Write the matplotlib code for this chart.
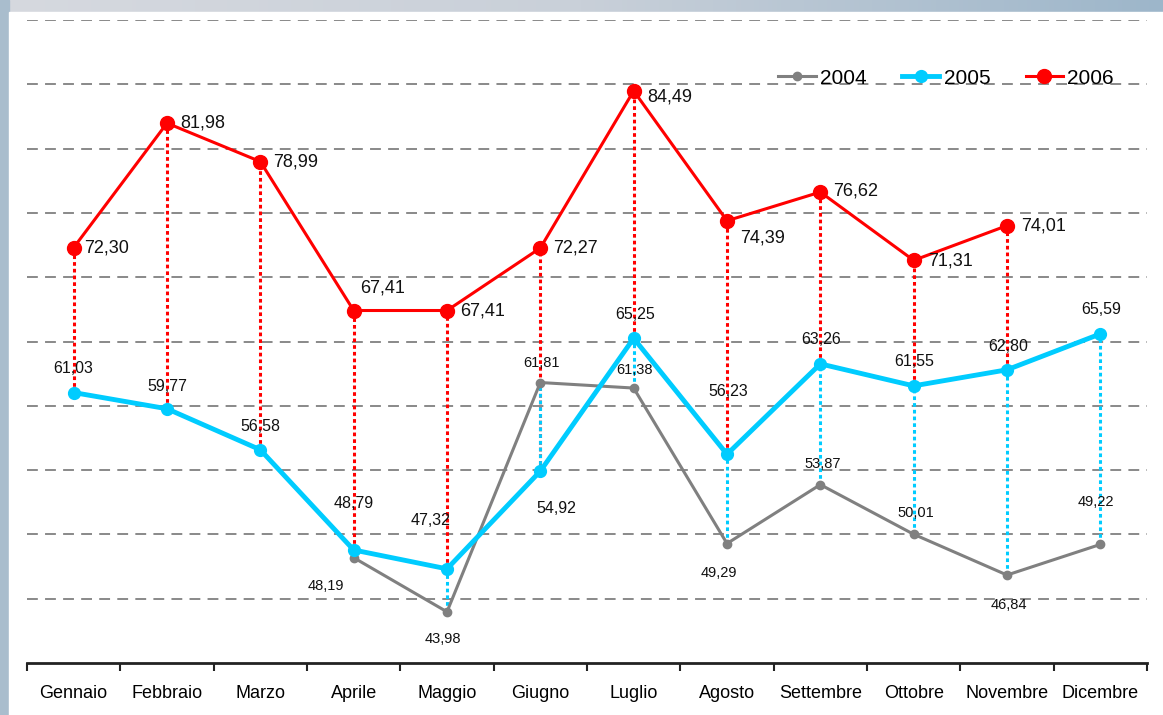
import numpy as np
import matplotlib
matplotlib.use("Agg")
import matplotlib.pyplot as plt
from matplotlib.colors import LinearSegmentedColormap
from matplotlib.patches import Rectangle

plt.rcParams['font.family'] = ['Liberation Sans', 'DejaVu Sans']

months = ['Gennaio', 'Febbraio', 'Marzo', 'Aprile', 'Maggio', 'Giugno',
          'Luglio', 'Agosto', 'Settembre', 'Ottobre', 'Novembre', 'Dicembre']
v2004 = [np.nan, np.nan, np.nan, 48.19, 43.98, 61.81, 61.38, 49.29, 53.87, 50.01, 46.84, 49.22]
v2005 = [61.03, 59.77, 56.58, 48.79, 47.32, 54.92, 65.25, 56.23, 63.26, 61.55, 62.80, 65.59]
v2006 = [72.30, 81.98, 78.99, 67.41, 67.41, 72.27, 84.49, 74.39, 76.62, 71.31, 74.01, np.nan]

# label offsets in pixels (dx, dy)
off2004 = [None, None, None, (-28, -28), (-4, -27), (1, 20), (1, 18), (-8, -29), (2, 21), (2, 21), (2, -30), (-4, 42)]
off2005 = [(0, 24), (0, 22), (0, 23), (0, 46), (-16, 48), (16, -37), (1, 24), (1, 63), (1, 24), (1, 24), (1, 23), (1, 24)]
off2006 = [(10, 0), (13, 0), (13, 0), (6, 23), (13, 0), (13, 0), (14, -6), (13, -17), (13, 1), (14, -1), (14, 0), None]

GREY, CYAN, RED = '#808080', '#00ccff', '#ff0000'

fig = plt.figure(figsize=(11.63, 7.15), dpi=100)

# background frame
bg = fig.add_axes([0, 0, 1, 1])
bg.set_axis_off()
cmap = LinearSegmentedColormap.from_list('bg', ['#d6d9df', '#c9d0d9', '#9db6ca'])
grad = np.tile(np.linspace(0, 1, 256), (64, 1))
bg.imshow(grad, cmap=cmap, aspect='auto', extent=[0, 1, 0, 1])
bg.add_patch(Rectangle((0, 0), 9 / 1163, 1, color='#a9bdcd', zorder=2))
bg.add_patch(Rectangle((9 / 1163, 0), 1, (715 - 12) / 715, color='white', zorder=3))
bg.set_xlim(0, 1)
bg.set_ylim(0, 1)

ax = fig.add_axes([27 / 1163, 52 / 715, 1120 / 1163, 643 / 715])
ax.patch.set_alpha(0)
x = np.arange(len(months))

for yv in range(45, 91, 5):
    ax.axhline(yv, color='#808080', lw=1.3, ls=(0, (6, 4)), zorder=1)

a4, a5, a6 = np.array(v2004), np.array(v2005), np.array(v2006)
for i in x:
    if not np.isnan(a6[i]) and not np.isnan(a5[i]):
        ax.vlines(i, a5[i], a6[i], color=RED, lw=2.2, ls=(0, (1.2, 1)), zorder=2)
    if not np.isnan(a5[i]) and not np.isnan(a4[i]):
        ax.vlines(i, min(a4[i], a5[i]), max(a4[i], a5[i]), color=CYAN, lw=2.2, ls=(0, (1.2, 1)), zorder=2)

ax.plot(x, v2004, color=GREY, lw=2.2, marker='o', ms=6, label='2004', zorder=3)
ax.plot(x, v2005, color=CYAN, lw=3.5, marker='o', ms=8.5, label='2005', zorder=4)
ax.plot(x, v2006, color=RED, lw=2.2, marker='o', ms=10, label='2006', zorder=5)

def fmt(v):
    return f'{v:.2f}'.replace('.', ',')

for vals, offs, size, ha in [(v2004, off2004, 10.5, 'center'), (v2005, off2005, 11.5, 'center'), (v2006, off2006, 13, 'left')]:
    for i, v in enumerate(vals):
        if np.isnan(v) or offs[i] is None:
            continue
        ax.annotate(fmt(v), (i, v), xytext=offs[i], textcoords='offset pixels',
                    ha=ha, va='center', fontsize=size, color='#111111', zorder=6)

ax.set_xlim(-0.5, 11.5)
ax.set_ylim(40, 90)
ax.set_xticks(np.arange(-0.5, 12, 1))
ax.set_xticklabels([])
ax.set_xticks(x, minor=True)
ax.set_xticklabels(months, minor=True, fontsize=13)
ax.tick_params(axis='x', which='major', length=6, width=1.5, direction='out', color='#222222')
ax.tick_params(axis='x', which='minor', length=0, pad=16)
ax.set_yticks([])
for s in ['top', 'right', 'left']:
    ax.spines[s].set_visible(False)
ax.spines['bottom'].set_linewidth(2)
ax.spines['bottom'].set_color('#222222')

ax.legend(loc='center', bbox_to_anchor=((946 - 27) / 1120, (663 - 78) / 643), ncol=3, frameon=False,
          fontsize=15, handlelength=1.8, handletextpad=0.2, columnspacing=1.7, borderaxespad=0)

fig.savefig('out.png', dpi=100)
